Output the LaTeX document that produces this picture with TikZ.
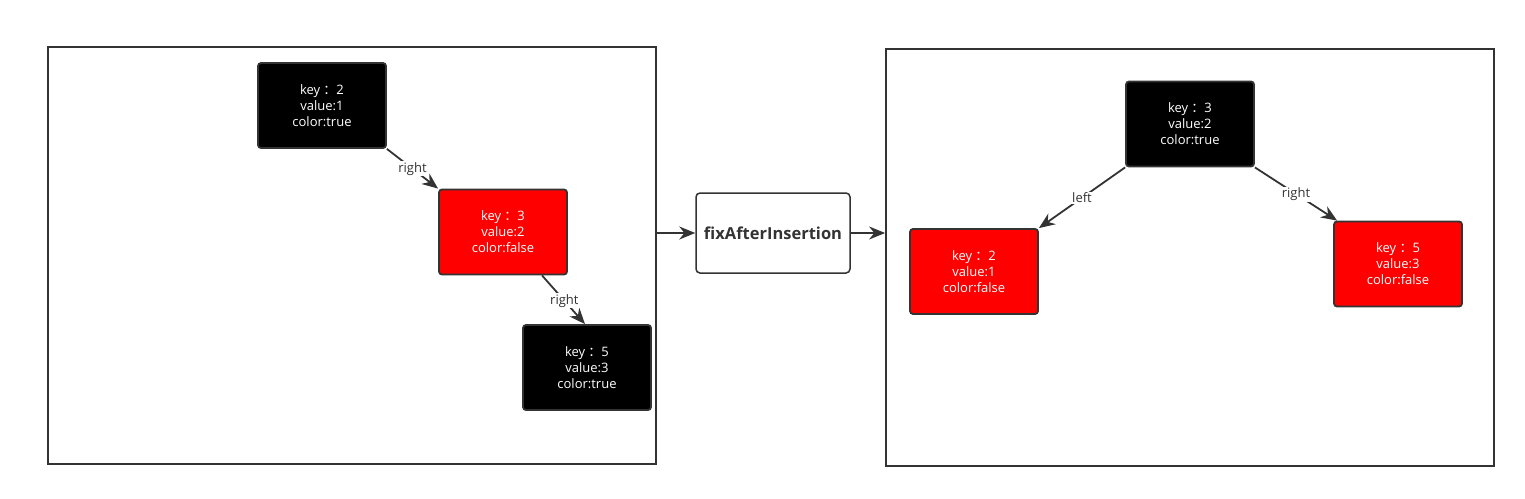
\documentclass[tikz,border=0pt]{standalone}
\usepackage{fontspec}
\setmainfont{Open Sans}
\newfontfamily\cjk{Noto Sans CJK SC}
\usetikzlibrary{arrows.meta,calc}
\definecolor{edge}{HTML}{333333}
\newcommand{\fc}{\hspace{0.25em}{\cjk ：}}
\begin{document}
\begin{tikzpicture}[x=1pt,y=-1pt,
  frame/.style={draw=edge,line width=1.8pt},
  blk/.style={draw=edge,line width=1.8pt,rounded corners=3pt,fill=black,text=white,
    minimum width=128pt,minimum height=85pt,inner sep=0pt,align=center,
    font=\fontsize{13}{16}\selectfont},
  rd/.style={blk,fill=red},
  proc/.style={draw=edge,line width=1.5pt,rounded corners=4pt,fill=white,
    minimum width=154pt,minimum height=80pt,inner sep=0pt,
    font=\fontsize{16.5}{18}\selectfont\bfseries,text=edge},
  conn/.style={draw=edge,line width=1.8pt,-{Stealth[length=16pt,width=13pt]}},
  lab/.style={fill=white,text=edge,inner sep=1pt,font=\fontsize{13}{15}\selectfont}
]
\useasboundingbox (0,0) rectangle (1525,498);
% frames
\node[frame,minimum width=608pt,minimum height=417pt,inner sep=0pt] (F1) at (352,255.5) {};
\node[frame,minimum width=608pt,minimum height=417pt,inner sep=0pt] (F2) at (1190,257.5) {};
% left tree
\node[blk] (A) at (322,105.5) {key\fc 2\\value:1\\color:true};
\node[rd]  (B) at (503,232) {key\fc 3\\value:2\\color:false};
\node[blk] (C) at (587,367.5) {key\fc 5\\value:3\\color:true};
% process
\node[proc] (P) at (773,233) {fixAfterInsertion};
% right tree
\node[blk] (R1) at (1190,124) {key\fc 3\\value:2\\color:true};
\node[rd]  (R2) at (974,271.5) {key\fc 2\\value:1\\color:false};
\node[rd]  (R3) at (1398,264) {key\fc 5\\value:3\\color:false};
% connectors
\draw[conn] (A.south east) -- node[lab,pos=0.5] {right} (B.north west);
\draw[conn] ([xshift=39pt]B.south) -- node[lab,pos=0.52] {right} ([xshift=-2pt]C.north);
\draw[conn] (R1.south west) -- node[lab,pos=0.5] {left} (R2.north east);
\draw[conn] (R1.south east) -- node[lab,pos=0.5] {right} ([xshift=4pt]R3.north west);
\draw[conn] (F1.east |- P.west) -- (P.west);
\draw[conn] (P.east) -- (F2.west |- P.east);
\end{tikzpicture}
\end{document}
